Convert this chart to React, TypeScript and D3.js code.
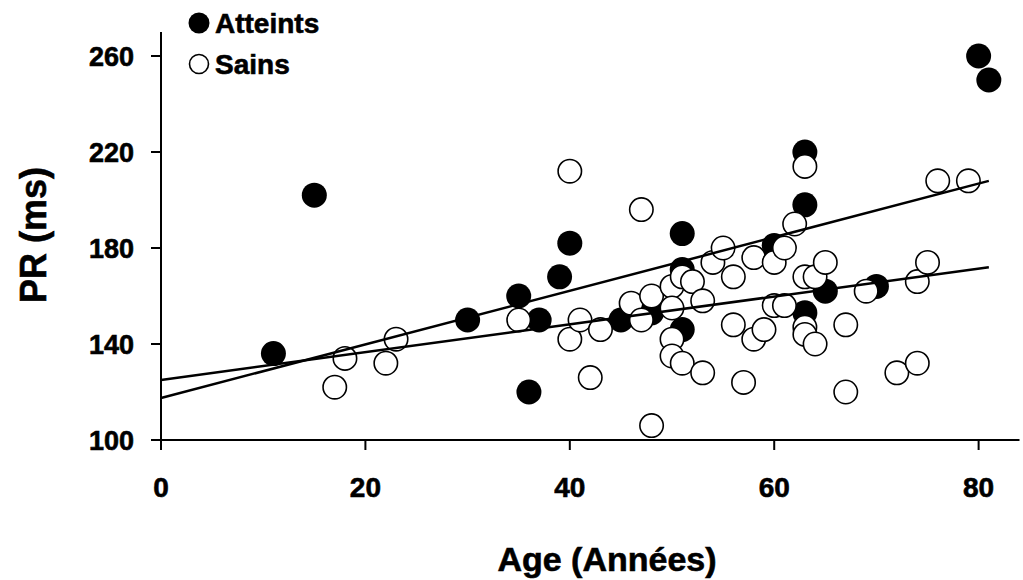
// @ts-nocheck
import React, { useRef, useEffect } from 'react';
import * as d3 from 'd3';

// Atteints (filled)
const atteintsAge = [11, 15, 30, 35, 36, 37, 39, 40, 45, 48, 51, 51, 51, 60, 63, 63, 63, 65, 70, 80, 81];
const atteintsPR = [136, 202, 150, 160, 120, 150, 168, 182, 150, 153, 186, 171, 146, 181, 220, 198, 153, 162, 164, 260, 250];

// Sains (open)
const sainsAge = [17, 18, 22, 23, 35, 40, 40, 41, 42, 43, 46, 47, 47, 48, 48, 50, 50, 50, 50, 51, 51, 52, 53, 53, 54, 55, 56, 56, 57, 58, 58, 59, 60, 60, 61, 61, 62, 63, 63, 63, 63, 64, 64, 65, 67, 67, 69, 72, 74, 74, 75, 76, 79];
const sainsPR = [122, 134, 132, 142, 150, 212, 142, 150, 126, 146, 157, 196, 150, 160, 106, 164, 155, 142, 135, 168, 132, 166, 158, 128, 174, 180, 168, 148, 124, 176, 142, 146, 174, 156, 180, 156, 190, 214, 168, 147, 144, 168, 140, 174, 148, 120, 162, 128, 166, 132, 174, 208, 208];

// regression lines: [intercept, slope], drawn from age 0 to 81
const fitIntercepts = [117.5, 125];
const fitSlopes = [1.117, 0.58];
const fitRange = [0, 81];

const xTicks = [0, 20, 40, 60, 80];
const yTicks = [100, 140, 180, 220, 260];

const legendLabels = ['Atteints', 'Sains'];

const App = () => {
  const svgRef = useRef(null);

  useEffect(() => {
    const svg = d3.select(svgRef.current);
    svg.selectAll('*').remove();

    const font = '"Liberation Sans", Arial, sans-serif';
    const x = d3.scaleLinear().domain([0, 84]).range([161, 1019.5]);
    const y = d3.scaleLinear().domain([100, 270]).range([440, 32]);

    // heavier bold text, like the original
    const boldText = sel => sel
      .attr('font-family', font).attr('font-weight', 'bold')
      .attr('stroke', '#000').attr('stroke-width', 0.6);

    // axes
    svg.append('line')
      .attr('x1', x(0)).attr('x2', x(0))
      .attr('y1', y(270)).attr('y2', 450)
      .attr('stroke', '#000').attr('stroke-width', 2);
    svg.append('line')
      .attr('x1', 151).attr('x2', x(84))
      .attr('y1', y(100)).attr('y2', y(100))
      .attr('stroke', '#000').attr('stroke-width', 2);

    svg.selectAll('.ytick')
      .data(yTicks)
      .enter().append('line')
      .attr('x1', 151).attr('x2', x(0))
      .attr('y1', d => y(d)).attr('y2', d => y(d))
      .attr('stroke', '#000').attr('stroke-width', 2);
    svg.selectAll('.ylab')
      .data(yTicks)
      .enter().append('text')
      .attr('x', 134).attr('y', d => y(d) + 10)
      .attr('text-anchor', 'end')
      .call(boldText).attr('font-size', 27)
      .text(d => d);

    svg.selectAll('.xtick')
      .data(xTicks)
      .enter().append('line')
      .attr('x1', d => x(d)).attr('x2', d => x(d))
      .attr('y1', y(100)).attr('y2', 450)
      .attr('stroke', '#000').attr('stroke-width', 2);
    svg.selectAll('.xlab')
      .data(xTicks)
      .enter().append('text')
      .attr('x', d => x(d)).attr('y', 497)
      .attr('text-anchor', 'middle')
      .call(boldText).attr('font-size', 28)
      .text(d => d);

    svg.append('text')
      .attr('x', 607).attr('y', 571)
      .attr('text-anchor', 'middle')
      .call(boldText).attr('font-size', 34)
      .text('Age (Années)');
    svg.append('text')
      .attr('transform', 'translate(46,235) rotate(-90)')
      .attr('text-anchor', 'middle')
      .call(boldText).attr('font-size', 36)
      .text('PR (ms)');

    // points: filled under open
    svg.selectAll('.att')
      .data(atteintsAge.map((a, i) => [a, atteintsPR[i]]))
      .enter().append('circle')
      .attr('cx', d => x(d[0])).attr('cy', d => y(d[1]))
      .attr('r', 12.5)
      .attr('fill', '#000');
    svg.selectAll('.sain')
      .data(sainsAge.map((a, i) => [a, sainsPR[i]]))
      .enter().append('circle')
      .attr('cx', d => x(d[0])).attr('cy', d => y(d[1]))
      .attr('r', 11.7)
      .attr('fill', '#fff')
      .attr('stroke', '#000').attr('stroke-width', 1.6);

    // regression lines
    const line = d3.line().x(d => x(d[0])).y(d => y(d[1]));
    fitIntercepts.forEach((b, i) => {
      svg.append('path')
        .attr('d', line(fitRange.map(a => [a, b + fitSlopes[i] * a])))
        .attr('fill', 'none')
        .attr('stroke', '#000').attr('stroke-width', 2.5);
    });

    // legend
    const legend = svg.append('g');
    legendLabels.forEach((lab, i) => {
      const cy = 23 + i * 41;
      legend.append('circle')
        .attr('cx', 199).attr('cy', cy).attr('r', i === 0 ? 10.5 : 9.5)
        .attr('fill', i === 0 ? '#000' : '#fff')
        .attr('stroke', '#000').attr('stroke-width', i === 0 ? 0 : 1.6);
      legend.append('text')
        .attr('x', 215).attr('y', cy + 10)
        .call(boldText).attr('font-size', 28)
        .text(lab);
    });
  }, []);

  return (
    <svg
      ref={svgRef}
      width={1023}
      height={580}
      style={{ position: 'absolute', left: 0, top: 0, background: '#fff' }}
    ></svg>
  );
};

export default App;
